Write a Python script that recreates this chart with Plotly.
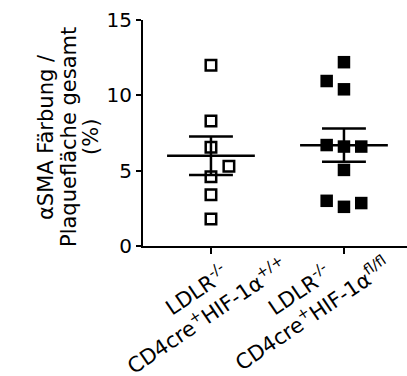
import numpy as np
import plotly.graph_objects as go

# Group labels (x categories), first and second line of each
categories = [
    ("LDLR<sup>-/-</sup>", "CD4cre<sup>+</sup>HIF-1α<sup>+/+</sup>"),
    ("LDLR<sup>-/-</sup>", "CD4cre<sup>+</sup>HIF-1α<sup>fl/fl</sup>"),
]

# αSMA-positive area as % of total plaque area, one value per animal
wt_values = [12.0, 8.3, 6.55, 5.3, 4.6, 3.4, 1.8]
ko_values = [12.2, 10.95, 10.4, 6.7, 6.6, 6.6, 5.05, 3.0, 2.6, 2.85]

y_ticks = [0, 5, 10, 15]
y_title_lines = ["αSMA Färbung /", "Plaquefläche gesamt", "(%)"]

# horizontal scatter offsets of the dots within each column (category units)
wt_offsets = [0, 0, 0, 0.135, 0, 0, 0]
ko_offsets = [0, -0.13, 0, -0.13, 0, 0.13, 0, -0.13, 0, 0.13]

FONT = "DejaVu Sans, Liberation Sans, Arial, sans-serif"
X_RANGE = [-0.511, 1.474]
LABEL_SHIFT = 0.43   # rotated labels end to the right of their tick
MEAN_HALF = 0.33     # half width of the mean bar
CAP_HALF = 0.165     # half width of the SEM caps
LW = 2.5

fig = go.Figure()


def add_group(xc, values, offsets, symbol, size):
    vals = np.asarray(values, dtype=float)
    mean = vals.mean()
    sem = vals.std(ddof=1) / np.sqrt(len(vals))
    line = dict(color="black", width=LW)
    # mean bar
    fig.add_trace(go.Scatter(x=[xc - MEAN_HALF, xc + MEAN_HALF], y=[mean, mean],
                             mode="lines", line=line, showlegend=False,
                             hoverinfo="skip", cliponaxis=False))
    # SEM whisker with caps
    lo, hi = mean - sem, mean + sem
    fig.add_trace(go.Scatter(
        x=[xc, xc, None, xc - CAP_HALF, xc + CAP_HALF, None, xc - CAP_HALF, xc + CAP_HALF],
        y=[lo, hi, None, hi, hi, None, lo, lo],
        mode="lines", line=line, showlegend=False, hoverinfo="skip", cliponaxis=False))
    # individual animals
    fig.add_trace(go.Scatter(
        x=[xc + o for o in offsets], y=vals, mode="markers",
        marker=dict(symbol=symbol, size=size, color="black",
                    line=dict(color="black", width=2.5 if "open" in symbol else 0)),
        showlegend=False, cliponaxis=False))


add_group(0, wt_values, wt_offsets, "square-open", 10.5)
add_group(1, ko_values, ko_offsets, "square", 12.5)

# empty trace so the label axis gets drawn
fig.add_trace(go.Scatter(x=[0, 1], y=[None, None], xaxis="x2", yaxis="y",
                         mode="markers", showlegend=False, hoverinfo="skip"))

# second line is longer; pad the first so both lines sit centred
tick_text = [l1 + "\u00a0" * 8 + "<br>" + l2 for l1, l2 in categories]
# keep the last label inside the figure so it is not dropped
label_pos = [min(i + LABEL_SHIFT, X_RANGE[1] - 0.27) for i in range(len(categories))]

annotations = []
# three-line y-axis title, drawn line by line for tight leading
for xs, txt in zip([-97, -74, -52], y_title_lines):
    annotations.append(dict(
        x=0, xref="paper", y=0.5, yref="paper", xanchor="center", yanchor="middle",
        xshift=xs, yshift=-4, text=txt, showarrow=False, textangle=-90,
        font=dict(family=FONT, size=21, color="black")))

fig.update_layout(
    width=407, height=376,
    margin=dict(l=143, r=0, t=20, b=130, autoexpand=False),
    paper_bgcolor="white", plot_bgcolor="white",
    font=dict(family=FONT, color="black"),
    showlegend=False,
    annotations=annotations,
    xaxis=dict(range=X_RANGE, tickvals=[0, 1], showticklabels=False,
               ticks="outside", ticklen=6, tickwidth=2, tickcolor="black",
               showline=True, linewidth=2, linecolor="black",
               showgrid=False, zeroline=False, fixedrange=True),
    # label-only axis carrying the rotated category names
    xaxis2=dict(overlaying="x", anchor="y", side="bottom", range=X_RANGE,
                tickvals=label_pos, ticktext=tick_text, tickangle=-34,
                ticks="", showline=False, showgrid=False, zeroline=False,
                fixedrange=True, automargin=False, ticklabelstandoff=-19,
                tickfont=dict(family=FONT, size=21, color="black")),
    yaxis=dict(range=[0, 15], tickvals=y_ticks, ticktext=[str(v) for v in y_ticks],
               ticks="outside", ticklen=5, tickwidth=2, tickcolor="black",
               showline=True, linewidth=2, linecolor="black",
               showgrid=False, zeroline=False, fixedrange=True, automargin=False,
               tickfont=dict(family=FONT, size=20, color="black")),
)

fig.write_html("out.html")
